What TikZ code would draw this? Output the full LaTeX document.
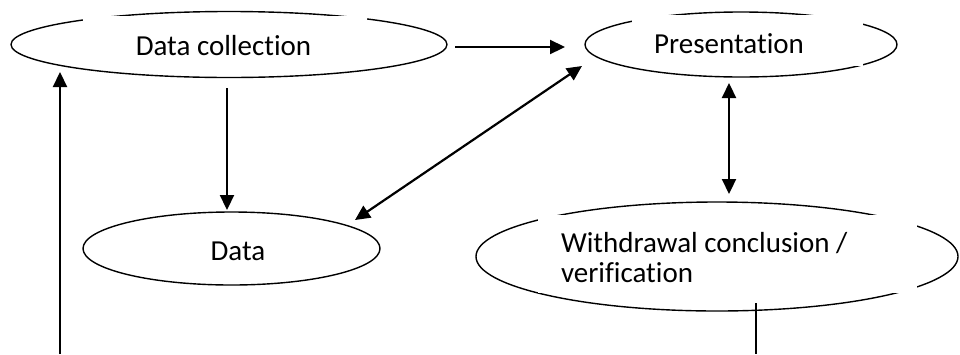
\documentclass[tikz,border=0pt]{standalone}
\usepackage{fontspec}
\setmainfont{Carlito}[Ligatures=NoCommon]
\usetikzlibrary{shapes.geometric,arrows.meta}
\begin{document}
\begin{tikzpicture}[x=1pt,y=-1pt,
  oval/.style={draw,ellipse,line width=1.4pt,inner sep=0pt,outer sep=0pt},
  mask/.style={fill=white},
  lbl/.style={font=\fontsize{29}{30}\selectfont,inner sep=0pt,outer sep=0pt},
  arr/.style={line width=2.2pt,-{Triangle[length=15pt,width=14pt]}},
  darr/.style={line width=2.2pt,{Triangle[length=15pt,width=14pt]}-{Triangle[length=15pt,width=14pt]}},
  plain/.style={line width=2.2pt}]
\useasboundingbox (0,0) rectangle (960,354);
% ellipses
\node[oval,minimum width=436pt,minimum height=66pt] (dc) at (229,44.5) {};
\node[oval,minimum width=312pt,minimum height=65pt] (pres) at (741,44.5) {};
\node[oval,minimum width=297pt,minimum height=73pt] (data) at (231.5,248.5) {};
\node[oval,minimum width=482pt,minimum height=109pt] (wc) at (717,256.5) {};
% text boxes that cut the outlines
\fill[mask] (83,15.5) rectangle (367,68);
\fill[mask] (632,15) rectangle (863,66);
\fill[mask] (538,215) rectangle (917,293);
% labels
\node[lbl,anchor=base] (tdc) at (223.5,55) {Data collection};
\node[lbl,anchor=base] (tpres) at (729,53.3) {Presentation};
\node[lbl,anchor=base] (tdata) at (238,260.3) {Data};
\node[lbl,anchor=base west,align=left] (twc) at (561,282) {Withdrawal conclusion /\\verification};
% connector ends
\coordinate (h1) at (455,47);  \coordinate (h2) at (565,47);
\coordinate (v1) at (227,88);  \coordinate (v2) at (227,210);
\coordinate (d1) at (355,220); \coordinate (d2) at (582,66);
\coordinate (p1) at (729,83);  \coordinate (p2) at (729,194);
\coordinate (l1) at (60,354);  \coordinate (l2) at (60,72);
\coordinate (r1) at (756,303); \coordinate (r2) at (756,354);
% connectors
\draw[arr] (h1) -- (h2);
\draw[arr] (v1) -- (v2);
\draw[darr] (d1) -- (d2);
\draw[darr] (p1) -- (p2);
\draw[arr] (l1) -- (l2);
\draw[plain] (r1) -- (r2);
\end{tikzpicture}
\end{document}
